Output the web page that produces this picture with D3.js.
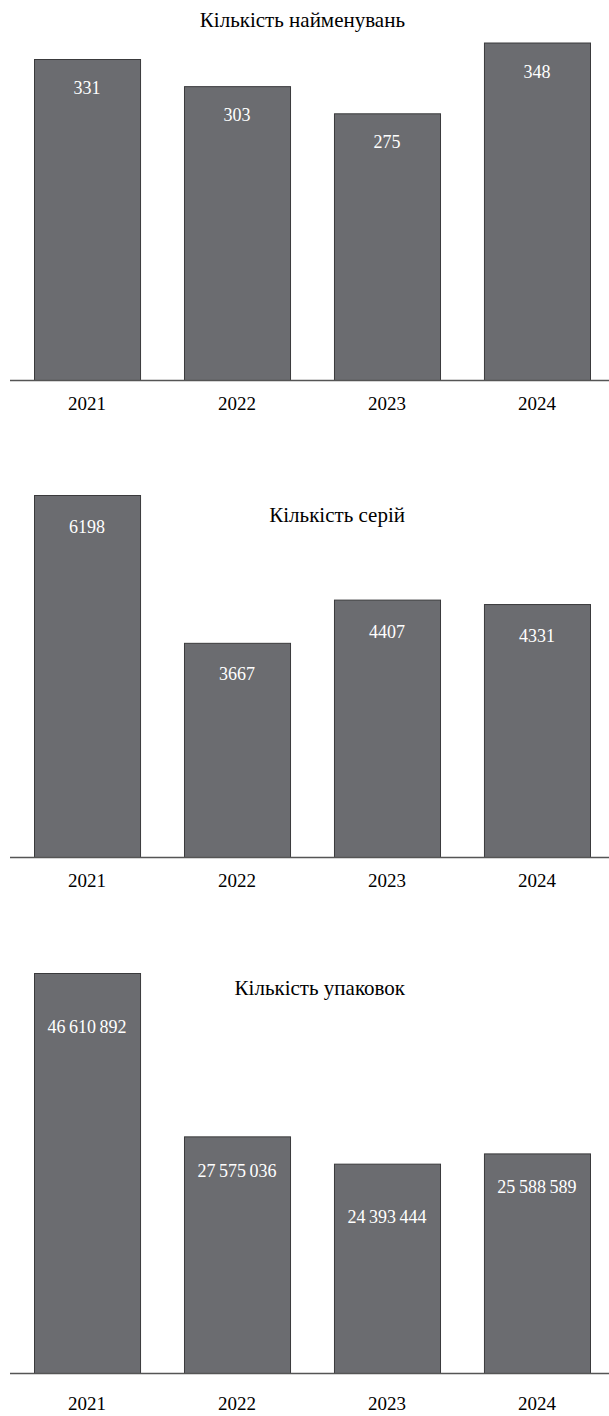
<!DOCTYPE html>
<html>
<head>
<meta charset="utf-8">
<title>Кількість</title>
<style>
  body {
    margin: 0px;
  }
  .bar {
    fill: #6b6c70;
    stroke: #3a3a3c;
    stroke-width: 1;
  }
</style>
<script src="https://cdn.jsdelivr.net/npm/d3@7"></script>
</head>
<body>
<svg width="609" height="1416"></svg>
<script>

const years = ["2021", "2022", "2023", "2024"];
const titles = ["Кількість найменувань", "Кількість серій", "Кількість упаковок"];
const names = [331, 303, 275, 348];
const series = [6198, 3667, 4407, 4331];
const packs = [46610892, 27575036, 24393444, 25588589];

// layout of each panel
const panels = [
  {title: titles[0], values: names,  base: 380,  top: 59,  ref: 331,      titleY: 27,  labelDy: [35, 35, 35, 35], yearDy: 30},
  {title: titles[1], values: series, base: 857,  top: 495, ref: 6198,     titleY: 522, labelDy: [38, 37, 38, 38], yearDy: 30},
  {title: titles[2], values: packs,  base: 1373, top: 973, ref: 46610892, titleY: 995, labelDy: [60, 41, 59, 40], yearDy: 37}
];

const width = 609, height = 1416;
const font = '"Liberation Serif"';

const svg = d3.select("svg");

const x = d3.scaleBand()
    .domain(years)
    .range([12, 612])
    .paddingInner(0.293)
    .paddingOuter(0.1467);

function fmt(v) {
  if (v < 10000) return String(v);
  return d3.format(",")(v).replace(/,/g, "\u2009");
}

for (const p of panels) {
  const y = d3.scaleLinear()
      .domain([0, p.ref])
      .range([p.base, p.top]);

  const g = svg.append("g");

  g.selectAll(".bar")
    .data(p.values)
    .join("rect")
      .attr("class", "bar")
      .attr("x", (d, i) => x(years[i]) + 0.5)
      .attr("width", x.bandwidth())
      .attr("y", d => y(d) + 0.5)
      .attr("height", d => p.base - y(d));

  g.selectAll(".val")
    .data(p.values)
    .join("text")
      .attr("class", "val")
      .style("font-family", font)
      .style("font-size", "18px")
      .style("fill", "white")
      .attr("text-anchor", "middle")
      .attr("x", (d, i) => x(years[i]) + x.bandwidth() / 2)
      .attr("y", (d, i) => y(d) + p.labelDy[i])
      .text(fmt);

  g.append("line")
      .attr("x1", 10)
      .attr("x2", width)
      .attr("y1", p.base + 0.5)
      .attr("y2", p.base + 0.5)
      .style("stroke", "#555")
      .style("stroke-width", 1.5);

  g.selectAll(".yr")
    .data(years)
    .join("text")
      .attr("class", "yr")
      .style("font-family", font)
      .style("font-size", "19px")
      .attr("text-anchor", "middle")
      .attr("x", d => x(d) + x.bandwidth() / 2)
      .attr("y", p.base + p.yearDy)
      .text(d => d);

  g.append("text")
      .attr("class", "ttl")
      .style("font-family", font)
      .style("font-size", "21px")
      .attr("text-anchor", "end")
      .attr("x", 405)
      .attr("y", p.titleY)
      .text(p.title);
}
</script>
</body>
</html>
